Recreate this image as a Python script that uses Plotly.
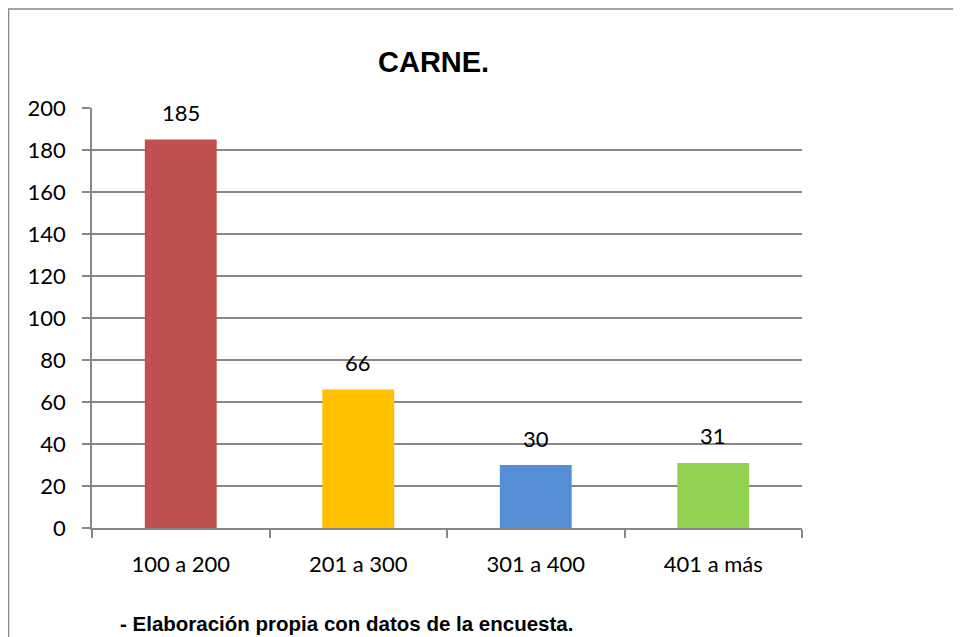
import plotly.graph_objects as go

# datos del grafico
categorias = ["100 a 200", "201 a 300", "301 a 400", "401 a más"]
valores = [185, 66, 30, 31]
colores = ["#C0504D", "#FFC000", "#558ED5", "#92D050"]
ticks_y = [0, 20, 40, 60, 80, 100, 120, 140, 160, 180, 200]

GRIS = "#878787"

fig = go.Figure(
    go.Bar(
        x=categorias,
        y=valores,
        marker=dict(color=colores, line=dict(width=0)),
        hoverinfo="x+y",
    )
)

# etiquetas de datos encima de cada barra
for cat, val in zip(categorias, valores):
    fig.add_annotation(
        x=cat, y=val, text=str(val), showarrow=False,
        yanchor="middle", yshift=27,
        font=dict(family="Lato", size=22, color="#000000"),
    )

# titulo
fig.add_annotation(
    xref="paper", yref="paper", x=(433 - 92) / 710, y=(528 - 62) / 420,
    text="<b>CARNE.</b>", showarrow=False, xanchor="center", yanchor="middle",
    font=dict(family="Liberation Sans", size=29, color="#000000"),
)

# nota al pie
fig.add_annotation(
    xref="paper", yref="paper", x=(119 - 92) / 710, y=(528 - 623) / 420,
    text="<b>- Elaboración propia con datos de la encuesta.</b>", showarrow=False,
    xanchor="left", yanchor="middle", borderpad=0,
    font=dict(family="Liberation Sans", size=20.5, color="#000000"),
)

# marco del grafico (arriba lo mas cerca posible del borde)
fig.add_shape(
    type="rect", xref="paper", yref="paper",
    x0=(8.5 - 92) / 710, x1=1.5, y0=-0.5, y1=(528 - 9) / 420,
    line=dict(color=GRIS, width=1.5), layer="below",
)

# la pagina deja 8 px de margen, por eso el area del grafico va 8 px antes
fig.update_layout(
    width=961,
    height=637,
    margin=dict(l=84, r=167, t=100, b=117),
    plot_bgcolor="white",
    paper_bgcolor="white",
    showlegend=False,
    bargap=0.595,
    font=dict(family="Lato", size=22, color="#000000"),
)
fig.update_xaxes(
    type="category",
    showline=True, linecolor=GRIS, linewidth=1.5,
    ticks="outside", tickson="boundaries", ticklen=8, tickcolor=GRIS, tickwidth=1.5,
    ticklabelstandoff=16,
    showgrid=False,
    tickfont=dict(family="Lato", size=22),
)
fig.update_yaxes(
    range=[0, 200],
    tickvals=ticks_y,
    showline=True, linecolor=GRIS, linewidth=1.5,
    ticks="outside", ticklen=8, tickcolor=GRIS, tickwidth=1.5,
    ticklabelstandoff=12,
    showgrid=True, gridcolor=GRIS, gridwidth=1.5,
    zeroline=False,
    tickfont=dict(family="Lato", size=22),
)

fig.write_html("out.html")
